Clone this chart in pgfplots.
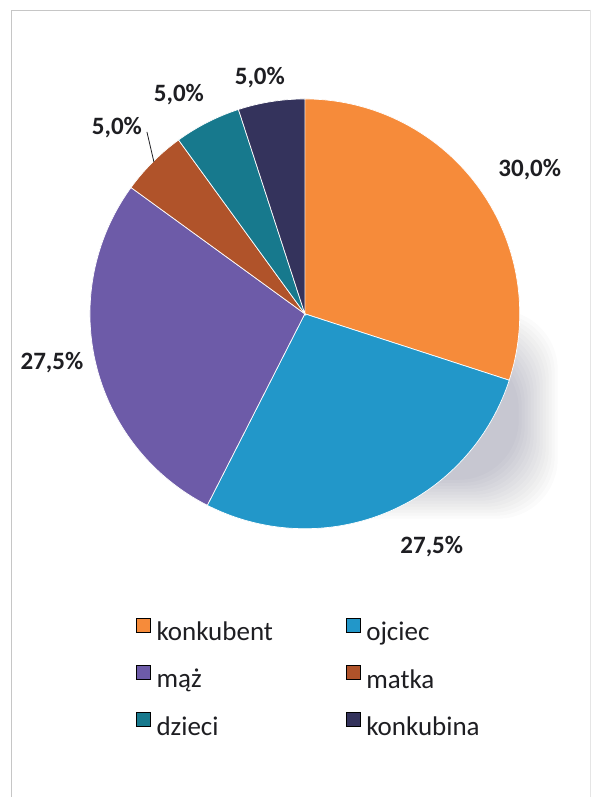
\documentclass[border=0pt]{standalone}
\usepackage{pgfplots}
\pgfplotsset{compat=1.18}
\usepackage{pgfplotstable}
\usepackage{fontspec}
\setmainfont{Carlito}

\definecolor{cKonkubent}{HTML}{F68B3A}
\definecolor{cOjciec}{HTML}{2297C9}
\definecolor{cMaz}{HTML}{6D5BA8}
\definecolor{cMatka}{HTML}{B0532A}
\definecolor{cDzieci}{HTML}{17798D}
\definecolor{cKonkubina}{HTML}{34335C}
\definecolor{txt}{HTML}{1E1E22}

% shares in percent, clockwise from 12 o'clock
\pgfplotstableread{
label value colour
konkubent 30.0 cKonkubent
ojciec 27.5 cOjciec
mąż 27.5 cMaz
matka 5.0 cMatka
dzieci 5.0 cDzieci
konkubina 5.0 cKonkubina
}\piedata

% build the wedges from the table (centre 305,483; radius 215)
\def\piecmds{}
\def\cur{90}
\pgfplotsforeachungrouped \i in {0,...,5}{%
  \pgfplotstablegetelem{\i}{value}\of\piedata \let\sliceval=\pgfplotsretval
  \pgfplotstablegetelem{\i}{colour}\of\piedata \let\slicecol=\pgfplotsretval
  \pgfmathsetmacro\nxt{\cur-3.6*\sliceval}%
  \xdef\piecmds{\piecmds
    \noexpand\fill[\slicecol,draw=white,line width=0.7pt] (axis cs:305,483) -- ++(\cur:215pt)
      arc[start angle=\cur,end angle=\nxt,radius=215pt] -- cycle;}%
  \global\let\cur=\nxt
}

\begin{document}
\begin{tikzpicture}
\begin{axis}[
  scale only axis, width=593pt, height=797pt,
  xmin=0, xmax=593, ymin=0, ymax=797,
  hide axis, clip=false,
  legend columns=2,
  legend cell align=left,
  legend image code/.code={\fill[#1] (0pt,0pt) rectangle (14pt,14pt); \path (18pt,0pt);},
  legend style={draw=none, fill=none, inner sep=0pt,
    at={(axis cs:136,179)}, anchor=north west,
    font=\fontsize{27}{27}\selectfont, text=txt,
    row sep=21pt,
    /tikz/every even column/.append style={column sep=71pt}},
]
\addplot[draw=none, fill=white, forget plot] coordinates {(0,0) (593,0) (593,797) (0,797)};
% soft drop shadow behind the pie
\pgfplotsinvokeforeach{0,...,13}{
  \fill[black!80!blue, opacity=0.017, rounded corners=60pt]
    ([shift={({(-22+3*#1)*1pt},{(-22+3*#1)*1pt})}]axis cs:300,300) rectangle
    ([shift={({(22-3*#1)*1pt},{(22-3*#1)*1pt})}]axis cs:536,465);
}
\draw[gray!45, line width=0.8pt] (axis cs:11,0) -- (axis cs:11,787) -- (axis cs:591,787);
\draw[gray!20, line width=0.8pt] (axis cs:591,787) -- (axis cs:591,0);
\piecmds
\begin{scope}[every node/.style={anchor=base, text=txt, font=\fontsize{25}{25}\selectfont\bfseries}]
\node at (axis cs:530,620) {30,0\%};
\node at (axis cs:432,243) {27,5\%};
\node at (axis cs:52,427) {27,5\%};
\node at (axis cs:117,662) {5,0\%};
\node at (axis cs:179,695) {5,0\%};
\node at (axis cs:260,712) {5,0\%};
\end{scope}
\draw[txt, line width=0.8pt] (axis cs:147,665) -- (axis cs:154,635);
\addlegendimage{fill=cKonkubent}\addlegendentry{konkubent}
\addlegendimage{fill=cOjciec}\addlegendentry{ojciec}
\addlegendimage{fill=cMaz}\addlegendentry{mąż}
\addlegendimage{fill=cMatka}\addlegendentry{matka}
\addlegendimage{fill=cDzieci}\addlegendentry{dzieci}
\addlegendimage{fill=cKonkubina}\addlegendentry{konkubina}
\end{axis}
\end{tikzpicture}
\end{document}
